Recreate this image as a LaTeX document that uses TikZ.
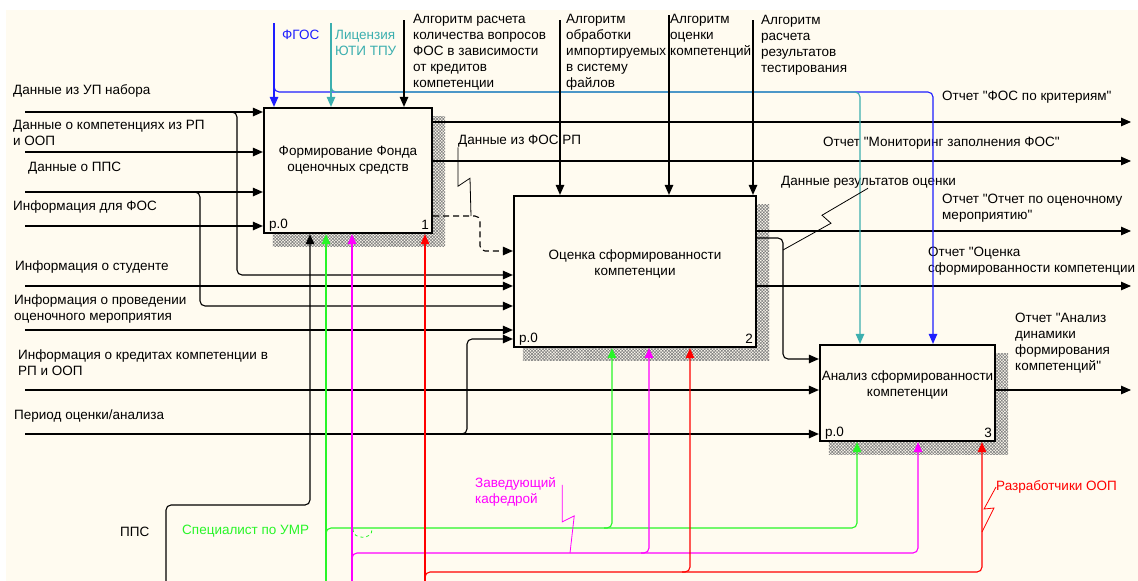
\documentclass[tikz,border=0pt]{standalone}
\usepackage{fontspec}
\setmainfont{Liberation Sans}[Ligatures=TeXOff]
\usepackage{xcolor}
\usepackage{tikz}
\usetikzlibrary{arrows.meta, backgrounds, patterns.meta}
\definecolor{bgcream}{RGB}{255,251,240}
\definecolor{fgosblue}{RGB}{30,30,255}
\definecolor{licteal}{RGB}{60,175,175}
\definecolor{umrgreen}{RGB}{40,245,40}
\definecolor{zavmag}{RGB}{255,0,255}
\definecolor{razred}{RGB}{255,0,0}
\newcommand{\lblfont}{\fontsize{13.5}{16}\selectfont}
\tikzset{
  activity/.style={rectangle, draw=black, line width=2.2pt, fill=bgcream, inner sep=0pt},
  boxtitle/.style={align=center, inner sep=0pt, font=\lblfont},
  boxnum/.style={inner sep=0pt, font=\lblfont},
  lbl/.style={anchor=west, align=left, inner sep=0pt, font=\lblfont},
  flow/.style={line width=1.1pt, rounded corners=5pt, -{Triangle[length=10pt,width=8.5pt]}},
  dashflow/.style={flow, dash pattern=on 6pt off 4pt},
  leader/.style={line width=0.8pt},
  hatch/.style={pattern={Hatch[angle=45,distance=2.2pt,line width=0.6pt]}, pattern color=black!50}
}

\begin{document}
\begin{tikzpicture}[x=1pt, y=-1pt]
\useasboundingbox (0,0) rectangle (1138,581);

% Activity boxes
\node[activity, minimum width=168pt, minimum height=125pt] (box1) at (348,170.5) {};
\node[activity, minimum width=242pt, minimum height=151pt] (box2) at (635,271.5) {};
\node[activity, minimum width=175pt, minimum height=96pt] (box3) at (907.5,393) {};
\node[boxtitle] (t1) at ([yshift=10pt]box1.center) {Формирование Фонда\\оценочных средств};
\node[boxtitle] (t2) at ([yshift=8pt]box2.center) {Оценка сформированности\\компетенции};
\node[boxtitle] (t3) at ([yshift=8pt]box3.center) {Анализ сформированности\\компетенции};
\node[boxnum, anchor=west] (p1) at ([shift={(6,-9)}]box1.south west) {p.0};
\node[boxnum, anchor=east] (n1) at ([shift={(-4,-9)}]box1.south east) {1};
\node[boxnum, anchor=west] (p2) at ([shift={(6,-9)}]box2.south west) {p.0};
\node[boxnum, anchor=east] (n2) at ([shift={(-4,-9)}]box2.south east) {2};
\node[boxnum, anchor=west] (p3) at ([shift={(6,-9)}]box3.south west) {p.0};
\node[boxnum, anchor=east] (n3) at ([shift={(-4,-9)}]box3.south east) {3};

% Input labels
\node[lbl] (lUP) at (13,91) {Данные из УП набора};
\node[lbl] (lKomp) at (13,132.5) {Данные о компетенциях из РП\\и ООП};
\node[lbl] (lPPS) at (28,168) {Данные о ППС};
\node[lbl] (lFOS) at (13,207) {Информация для ФОС};
\node[lbl] (lStud) at (15,267) {Информация о студенте};
\node[lbl] (lMer) at (14,309) {Информация о проведении\\оценочного мероприятия};
\node[lbl] (lKred) at (18,363) {Информация о кредитах компетенции в\\РП и ООП};
\node[lbl] (lPer) at (14,416) {Период оценки/анализа};

% Control labels
\node[lbl, text=fgosblue] (lFGOS) at (282,35) {ФГОС};
\node[lbl, text=licteal] (lLic) at (335,43) {Лицензия\\ЮТИ ТПУ};
\node[lbl] (lAlg1) at (413,52.5) {Алгоритм расчета\\количества вопросов\\ФОС в зависимости\\от кредитов\\компетенции};
\node[lbl] (lAlg2) at (566,52.5) {Алгоритм\\обработки\\импортируемых\\в систему\\файлов};
\node[lbl] (lAlg3) at (670,36.5) {Алгоритм\\оценки\\компетенций};
\node[lbl] (lAlg4) at (761,45) {Алгоритм\\расчета\\результатов\\тестирования};

% Output labels
\node[lbl] (lKrit) at (942,97) {Отчет "ФОС по критериям"};
\node[lbl] (lMon) at (823,143) {Отчет "Мониторинг заполнения ФОС"};
\node[lbl] (lRes) at (781,182) {Данные результатов оценки};
\node[lbl] (lOtch) at (942,208) {Отчет "Отчет по оценочному\\мероприятию"};
\node[lbl] (lOcen) at (928,261.5) {Отчет "Оценка\\сформированности компетенции};
\node[lbl] (lAn) at (1015,343) {Отчет "Анализ\\динамики\\формирования\\компетенций"};
\node[lbl] (lFOSRP) at (458,141) {Данные из ФОС РП};

% Mechanism labels
\node[lbl] (lPPSm) at (120,532) {ППС};
\node[lbl, text=umrgreen] (lUMR) at (182,531) {Специалист по УМР};
\node[lbl, text=zavmag] (lZav) at (475,491.5) {Заведующий\\кафедрой};
\node[lbl, text=razred] (lRaz) at (996,487) {Разработчики ООП};

% Inputs
\coordinate (iUP) at (25,112);
\coordinate (iKomp) at (25,152);
\coordinate (iPPS) at (25,192);
\coordinate (iFOS) at (25,226);
\coordinate (iStud) at (25,286);
\coordinate (iMer) at (25,330);
\coordinate (iKred) at (25,390);
\coordinate (iPer) at (25,434);
\coordinate (bUP) at (231,112);
\coordinate (jUP) at (237,275);
\coordinate (bPPS) at (194,192);
\coordinate (jPPS) at (200,306);
\coordinate (bPer) at (461,434);
\coordinate (jPer) at (467,339);

\draw[flow] (iUP) -- (iUP -| box1.west);
\draw[flow] (iKomp) -- (iKomp -| box1.west);
\draw[flow] (iPPS) -- (iPPS -| box1.west);
\draw[flow] (iFOS) -- (iFOS -| box1.west);
\draw[flow] (bUP) -| (jUP) -- (jUP -| box2.west);
\draw[flow] (bPPS) -| (jPPS) -- (jPPS -| box2.west);
\draw[flow] (iStud) -- (iStud -| box2.west);
\draw[flow] (iMer) -- (iMer -| box2.west);
\draw[flow] (iKred) -- (iKred -| box3.west);
\draw[flow] (iPer) -- (iPer -| box3.west);
\draw[flow] (bPer) -| (jPer) -- (jPer -| box2.west);

% Outputs
\coordinate (oKrit) at (1131,122);
\coordinate (oMon) at (1131,161);
\coordinate (dFOS) at (480,216);
\coordinate (jFOS) at (480,251);
\coordinate (oOtch) at (1131,231);
\coordinate (dRes) at (783,238);
\coordinate (jRes) at (783,359);
\coordinate (oOcen) at (1131,286);
\coordinate (oAn) at (1131,390);

\draw[flow] (oKrit -| box1.east) -- (oKrit);
\draw[flow] (oMon -| box1.east) -- (oMon);
\draw[dashflow] (dFOS -| box1.east) -| (jFOS) -- (jFOS -| box2.west);
\draw[flow] (oOtch -| box2.east) -- (oOtch);
\draw[flow] (dRes -| box2.east) -| (jRes) -- (jRes -| box3.west);
\draw[flow] (oOcen -| box2.east) -- (oOcen);
\draw[flow] (oAn -| box3.east) -- (oAn);

% Controls
\coordinate (cFGOS) at (274,23);
\coordinate (bFGOS) at (274,86);
\coordinate (jFGOS) at (933,92);
\coordinate (cLic) at (331,23);
\coordinate (bLic) at (331,86);
\coordinate (jLic) at (860,92);
\coordinate (cAlg1) at (404,20);
\coordinate (cAlg2) at (560,20);
\coordinate (cAlg3) at (669,15);
\coordinate (cAlg4) at (753,20);

\draw[flow, fgosblue] (cFGOS) -- (cFGOS |- box1.north);
\draw[flow, fgosblue] (bFGOS) |- (jFGOS) -- (jFGOS |- box3.north);
\draw[flow, licteal] (cLic) -- (cLic |- box1.north);
\draw[flow, licteal] (bLic) |- (jLic) -- (jLic |- box3.north);
\draw[flow] (cAlg1) -- (cAlg1 |- box1.north);
\draw[flow] (cAlg2) -- (cAlg2 |- box2.north);
\draw[flow] (cAlg3) -- (cAlg3 |- box2.north);
\draw[flow] (cAlg4) -- (cAlg4 |- box2.north);

% Mechanisms
\coordinate (mPPS) at (166,581);
\coordinate (jPPSm) at (310,505);
\coordinate (mUMR) at (326,581);
\coordinate (bUMR) at (326,534);
\coordinate (jUMR) at (857,528);
\coordinate (bUMR2) at (604,528);
\coordinate (xUMR2) at (612,528);
\coordinate (mZav) at (352,581);
\coordinate (bZav) at (352,559);
\coordinate (jZav) at (918,553);
\coordinate (bZav2) at (641,553);
\coordinate (xZav2) at (649,553);
\coordinate (mRaz) at (425,581);
\coordinate (bRaz) at (425,578);
\coordinate (jRaz) at (982,572);
\coordinate (bRaz2) at (682,572);
\coordinate (xRaz2) at (690,572);

\draw[flow] (mPPS) |- (jPPSm) -- (jPPSm |- box1.south);
\draw[flow, umrgreen] (mUMR) -- (mUMR |- box1.south);
\draw[flow, umrgreen] (bUMR) |- (jUMR) -- (jUMR |- box3.south);
\draw[flow, umrgreen] (bUMR2) -| (xUMR2 |- box2.south);
\draw[umrgreen, line width=0.8pt, dashed] (353,529) .. controls (352,540) and (373,540) .. (372,529);
\draw[flow, zavmag] (mZav) -- (mZav |- box1.south);
\draw[flow, zavmag] (bZav) |- (jZav) -- (jZav |- box3.south);
\draw[flow, zavmag] (bZav2) -| (xZav2 |- box2.south);
\draw[flow, razred] (mRaz) -- (mRaz |- box1.south);
\draw[flow, razred] (bRaz) |- (jRaz) -- (jRaz |- box3.south);
\draw[flow, razred] (bRaz2) -| (xRaz2 |- box2.south);

% Label leaders
\coordinate (zFOS) at (471,216);
\coordinate (zRes) at (783,250);
\coordinate (zZav) at (570,553);
\coordinate (zRaz) at (982,532);
\draw[leader] (lFOSRP.south west) -- ++(0,39) -- ++(12,-8) -- (zFOS);
\draw[leader] ([xshift=87pt]lRes.south west) -- ++(-46,27) -- ++(9,8) -- (zRes);
\draw[leader, zavmag] ([shift={(6,8)}]lZav.north east) -- ++(0,37) -- ++(12,-6) -- (zZav);
\draw[leader, razred] (lRaz.west) -- ++(-12,22) -- ++(10,-1) -- (zRaz);

% Background and shadows
\begin{scope}[on background layer]
\fill[white] (0,0) rectangle (1138,581);
\fill[bgcream] (6,10) rectangle (1138,581);
\fill[hatch] ([shift={(10,10)}]box1.north west) rectangle ([shift={(12,12)}]box1.south east);
\fill[hatch] ([shift={(10,10)}]box2.north west) rectangle ([shift={(12,12)}]box2.south east);
\fill[hatch] ([shift={(10,10)}]box3.north west) rectangle ([shift={(12,12)}]box3.south east);
\end{scope}
\end{tikzpicture}
\end{document}
